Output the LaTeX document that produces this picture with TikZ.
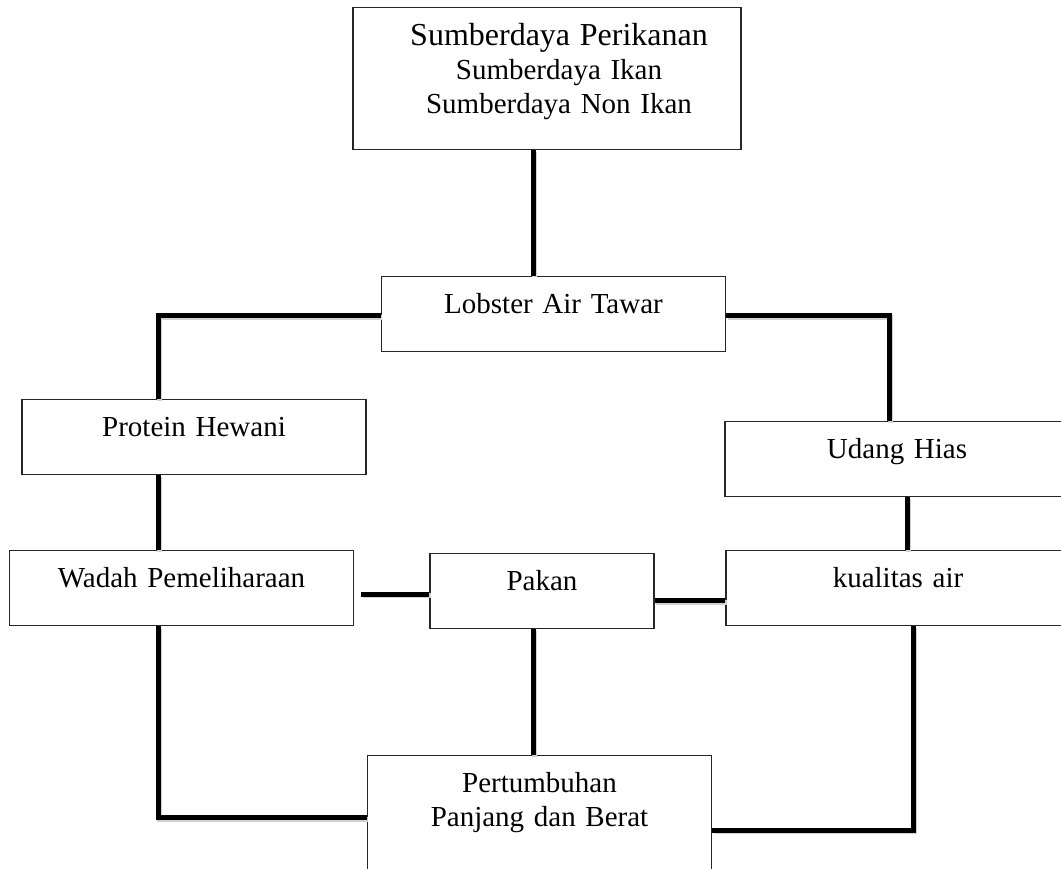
\documentclass[tikz,border=0pt]{standalone}
\usepackage{fontspec}
\setmainfont{Liberation Serif}

\begin{document}
\begin{tikzpicture}[x=1pt,y=-1pt,
  blok/.style={draw=black!85,line width=1.1pt,fill=white,inner sep=0pt,
    text width=344pt,align=center,text height=37pt,text depth=38pt,anchor=north,
    font=\fontsize{29}{34}\selectfont},
  garis/.style={line width=5pt,black,
    preaction={draw=black!18,line width=5pt,transform canvas={shift={(1.5pt,-1.5pt)}}}}]
  \useasboundingbox (0,0) rectangle (1061,869);

  % kotak-kotak
  \node[blok,text width=388pt,text height=38pt,text depth=104pt] (sumber) at (547,7)
    {\advance\leftskip by 24pt
     {\fontsize{32}{34}\selectfont Sumberdaya Perikanan}\\Sumberdaya Ikan\\Sumberdaya Non Ikan\par};
  \node[blok] (lobster) at (553.5,276) {Lobster Air Tawar};
  \node[blok] (protein) at (194,399) {Protein Hewani};
  \node[blok] (udang) at (897,421) {Udang Hias};
  \node[blok] (wadah) at (181.5,550) {Wadah Pemeliharaan};
  \node[blok,text width=224pt] (pakan) at (542,553) {Pakan};
  \node[blok] (kualitas) at (898,550) {kualitas air};
  \node[blok,text depth=87pt] (tumbuh) at (539.5,755) {Pertumbuhan\\Panjang dan Berat};

  % garis penghubung
  \draw[garis] ([xshift=-14pt]sumber.south) -- ([xshift=-14pt]sumber.south |- lobster.north);
  \draw[garis] ([yshift=-1.5pt]lobster.west) -| ([xshift=-36pt]protein.north);
  \draw[garis] ([yshift=-1.5pt]lobster.east) -| ([xshift=-8pt]udang.north);
  \draw[garis] ([xshift=-36pt]protein.south) -- ([xshift=-36pt]protein.south |- wadah.north);
  \draw[garis] ([xshift=10pt]udang.south) -- ([xshift=10pt]udang.south |- kualitas.north);
  \draw[garis] ([xshift=7pt,yshift=-3pt]pakan.west -| wadah.east) -- ([yshift=-3pt]pakan.west);
  \draw[garis] ([yshift=-9.5pt]pakan.east) -- ([yshift=-9.5pt]pakan.east -| kualitas.west);
  \draw[garis] ([xshift=-9pt]pakan.south) -- ([xshift=-9pt]pakan.south |- tumbuh.north);
  \draw[garis] ([xshift=-23.5pt]wadah.south) |- (tumbuh.west);
  \draw[garis] ([xshift=15pt]kualitas.south) |- ([yshift=-12.5pt]tumbuh.east);
\end{tikzpicture}
\end{document}
